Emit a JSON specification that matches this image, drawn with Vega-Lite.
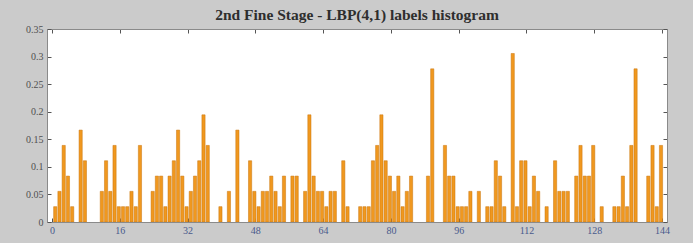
{
  "$schema": "https://vega.github.io/schema/vega-lite/v6.json",
  "width": 620,
  "height": 193,
  "autosize": {"type": "none"},
  "padding": {"left": 47, "top": 29, "right": 26, "bottom": 21},
  "background": "#cbcbcb",
  "title": {
    "text": "2nd Fine Stage - LBP(4,1) labels histogram",
    "font": "Liberation Serif",
    "fontSize": 15.5,
    "fontWeight": "bold",
    "color": "#2e2e2e",
    "baseline": "alphabetic",
    "offset": -11,
    "anchor": "middle"
  },
  "config": {
    "view": {"fill": "white", "stroke": "#8a8a8a", "strokeWidth": 1},
    "axis": {
      "labelFont": "Liberation Serif",
      "labelFontSize": 10,
      "grid": false,
      "domainColor": "#8a8a8a",
      "tickColor": "#555555",
      "tickSize": -4,
      "tickWidth": 1
    }
  },
  "data": {"values": [
    {"label": 1, "freq": 0.0278}, {"label": 2, "freq": 0.0556}, {"label": 3, "freq": 0.1389}, {"label": 4, "freq": 0.0833},
    {"label": 5, "freq": 0.0278}, {"label": 7, "freq": 0.1667}, {"label": 8, "freq": 0.1111},
    {"label": 12, "freq": 0.0556}, {"label": 13, "freq": 0.1111}, {"label": 14, "freq": 0.0556}, {"label": 15, "freq": 0.1389},
    {"label": 16, "freq": 0.0278}, {"label": 17, "freq": 0.0278}, {"label": 18, "freq": 0.0278}, {"label": 19, "freq": 0.0556},
    {"label": 20, "freq": 0.0278}, {"label": 21, "freq": 0.1389},
    {"label": 24, "freq": 0.0556}, {"label": 25, "freq": 0.0833}, {"label": 26, "freq": 0.0833}, {"label": 27, "freq": 0.0278},
    {"label": 28, "freq": 0.0833}, {"label": 29, "freq": 0.1111}, {"label": 30, "freq": 0.1667}, {"label": 31, "freq": 0.0833},
    {"label": 32, "freq": 0.0278}, {"label": 33, "freq": 0.0556}, {"label": 34, "freq": 0.0833}, {"label": 35, "freq": 0.1111},
    {"label": 36, "freq": 0.1944}, {"label": 37, "freq": 0.1389},
    {"label": 40, "freq": 0.0278}, {"label": 42, "freq": 0.0556}, {"label": 44, "freq": 0.1667},
    {"label": 47, "freq": 0.1111}, {"label": 48, "freq": 0.0556}, {"label": 49, "freq": 0.0278}, {"label": 50, "freq": 0.0556},
    {"label": 51, "freq": 0.0556}, {"label": 52, "freq": 0.0833}, {"label": 53, "freq": 0.0556}, {"label": 54, "freq": 0.0278},
    {"label": 55, "freq": 0.0833},
    {"label": 57, "freq": 0.0833}, {"label": 58, "freq": 0.0833},
    {"label": 60, "freq": 0.0556}, {"label": 61, "freq": 0.1944}, {"label": 62, "freq": 0.0833}, {"label": 63, "freq": 0.0556},
    {"label": 64, "freq": 0.0556}, {"label": 65, "freq": 0.0278}, {"label": 66, "freq": 0.0556}, {"label": 67, "freq": 0.0556},
    {"label": 69, "freq": 0.1111}, {"label": 70, "freq": 0.0278},
    {"label": 73, "freq": 0.0278}, {"label": 74, "freq": 0.0278}, {"label": 75, "freq": 0.0278}, {"label": 76, "freq": 0.1111},
    {"label": 77, "freq": 0.1389}, {"label": 78, "freq": 0.1944}, {"label": 79, "freq": 0.1111}, {"label": 80, "freq": 0.0833},
    {"label": 81, "freq": 0.0556}, {"label": 82, "freq": 0.0833}, {"label": 83, "freq": 0.0278}, {"label": 84, "freq": 0.0556},
    {"label": 85, "freq": 0.0833},
    {"label": 89, "freq": 0.0833}, {"label": 90, "freq": 0.2778},
    {"label": 93, "freq": 0.1389}, {"label": 94, "freq": 0.0833}, {"label": 95, "freq": 0.0833}, {"label": 96, "freq": 0.0278},
    {"label": 97, "freq": 0.0278}, {"label": 98, "freq": 0.0278}, {"label": 99, "freq": 0.0556},
    {"label": 101, "freq": 0.0556},
    {"label": 103, "freq": 0.0278}, {"label": 104, "freq": 0.0278}, {"label": 105, "freq": 0.1111}, {"label": 106, "freq": 0.0833},
    {"label": 107, "freq": 0.0278},
    {"label": 109, "freq": 0.3056}, {"label": 110, "freq": 0.0278}, {"label": 111, "freq": 0.1111}, {"label": 112, "freq": 0.1111},
    {"label": 113, "freq": 0.0278}, {"label": 114, "freq": 0.0833}, {"label": 115, "freq": 0.0556},
    {"label": 117, "freq": 0.0278},
    {"label": 119, "freq": 0.1111}, {"label": 120, "freq": 0.0556}, {"label": 121, "freq": 0.0556}, {"label": 122, "freq": 0.0556},
    {"label": 124, "freq": 0.0833}, {"label": 125, "freq": 0.1389}, {"label": 126, "freq": 0.0833}, {"label": 127, "freq": 0.0833},
    {"label": 128, "freq": 0.1389},
    {"label": 130, "freq": 0.0278},
    {"label": 133, "freq": 0.0278}, {"label": 134, "freq": 0.0278}, {"label": 135, "freq": 0.0833}, {"label": 136, "freq": 0.0278},
    {"label": 137, "freq": 0.1389}, {"label": 138, "freq": 0.2778},
    {"label": 141, "freq": 0.0833}, {"label": 142, "freq": 0.1389}, {"label": 143, "freq": 0.0278}, {"label": 144, "freq": 0.1389}
  ]},
  "layer": [
    {
      "mark": {"type": "bar", "size": 3.2, "xOffset": -1, "color": "#f0981f", "stroke": "#c8740c", "strokeWidth": 0.5, "clip": true},
      "encoding": {
        "x": {
          "field": "label", "type": "quantitative",
          "scale": {"domain": [0, 144], "nice": false, "zero": false},
          "axis": {"orient": "bottom", "title": null, "values": [0, 16, 32, 48, 64, 80, 96, 112, 128, 144], "labelColor": "#4a5a8c", "labelPadding": 7, "labelFlush": false}
        },
        "y": {
          "field": "freq", "type": "quantitative",
          "scale": {"domain": [0, 0.35], "nice": false},
          "axis": {"orient": "left", "title": null, "values": [0, 0.05, 0.1, 0.15, 0.2, 0.25, 0.3, 0.35], "format": ".2~f", "labelColor": "#505050", "labelPadding": 8}
        }
      }
    },
    {
      "mark": {"type": "bar", "size": 3.2, "opacity": 0},
      "encoding": {
        "x": {
          "field": "label", "type": "quantitative",
          "axis": {"orient": "top", "title": null, "labels": false, "values": [0, 16, 32, 48, 64, 80, 96, 112, 128, 144]}
        },
        "y": {
          "field": "freq", "type": "quantitative",
          "axis": {"orient": "right", "title": null, "labels": false, "values": [0, 0.05, 0.1, 0.15, 0.2, 0.25, 0.3, 0.35]}
        }
      }
    }
  ],
  "resolve": {"axis": {"x": "independent", "y": "independent"}}
}
